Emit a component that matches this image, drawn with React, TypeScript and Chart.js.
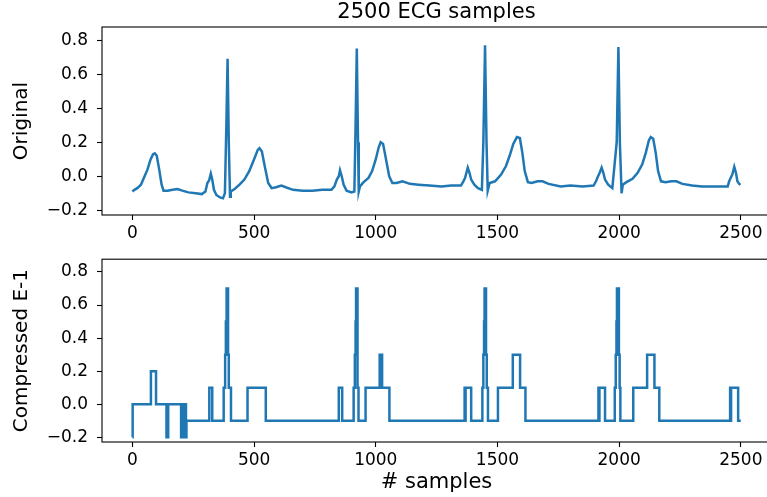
import React, { useEffect, useRef } from "react";
import { Chart, registerables } from "chart.js";

Chart.register(...registerables);

const TITLE = "2500 ECG samples";
const TOP_Y_LABEL = "Original";
const BOTTOM_Y_LABEL = "Compressed E-1";
const X_LABEL = "# samples";
const X_TICKS = [0, 500, 1000, 1500, 2000, 2500];
const Y_TICKS = [-0.2, 0, 0.2, 0.4, 0.6, 0.8];

const ECG_X = [
  0, 8, 20, 35, 50, 62, 75, 85, 92, 100, 110, 120, 128, 145, 165, 185, 205, 230, 260, 285,
  300, 308, 315, 322, 328, 335, 345, 360, 372, 380, 386, 391, 396, 401, 404, 420, 440, 460, 480, 500,
  515, 522, 532, 545, 558, 572, 590, 612, 630, 660, 700, 740, 780, 818, 830, 840, 848, 853, 860, 868,
  880, 900, 912, 917, 922, 927, 930, 935, 950, 970, 985, 1000, 1012, 1020, 1030, 1042, 1055, 1068, 1085, 1110,
  1140, 1175, 1220, 1270, 1310, 1350, 1360, 1367, 1378, 1385, 1392, 1405, 1420, 1436, 1442, 1449, 1455, 1460, 1468, 1490,
  1515, 1535, 1550, 1565, 1580, 1592, 1602, 1612, 1625, 1640, 1665, 1685, 1710, 1760, 1800, 1850, 1895, 1905, 1912, 1920,
  1928, 1935, 1942, 1955, 1972, 1990, 1997, 2003, 2010, 2015, 2030, 2055, 2076, 2095, 2110, 2122, 2130, 2140, 2150, 2160,
  2172, 2190, 2215, 2235, 2260, 2300, 2340, 2380, 2420, 2446, 2452, 2458, 2465, 2473, 2480, 2486, 2493, 2499,
];
const ECG_Y = [
  -0.09, -0.08, -0.07, -0.05, 0.0, 0.04, 0.1, 0.13, 0.135, 0.12, 0.04, -0.05, -0.085, -0.085, -0.08, -0.075, -0.085, -0.095, -0.1, -0.105,
  -0.09, -0.04, -0.025, 0.015, -0.02, -0.08, -0.11, -0.125, -0.13, -0.1, 0.3, 0.69, 0.2, -0.12, -0.09, -0.075, -0.05, -0.02, 0.03, 0.1,
  0.155, 0.165, 0.145, 0.05, -0.04, -0.07, -0.065, -0.055, -0.065, -0.08, -0.085, -0.085, -0.08, -0.08, -0.06, -0.02, 0.0, 0.035, 0.0, -0.05,
  -0.085, -0.095, -0.09, 0.3, 0.75, 0.2, -0.09, -0.06, -0.035, -0.01, 0.03, 0.1, 0.17, 0.2, 0.19, 0.1, 0.0, -0.04, -0.04, -0.03,
  -0.045, -0.05, -0.055, -0.06, -0.055, -0.055, -0.03, -0.01, 0.05, 0.02, -0.02, -0.05, -0.07, -0.08, 0.2, 0.77, 0.2, -0.085, -0.04, -0.03,
  0.01, 0.06, 0.12, 0.19, 0.23, 0.225, 0.14, 0.03, -0.035, -0.04, -0.03, -0.03, -0.045, -0.06, -0.055, -0.06, -0.055, -0.03, -0.005, 0.02,
  0.05, 0.02, -0.02, -0.05, -0.07, 0.2, 0.76, 0.2, -0.1, -0.05, -0.035, -0.015, 0.02, 0.07, 0.14, 0.21, 0.23, 0.22, 0.14, 0.03,
  -0.03, -0.035, -0.03, -0.03, -0.045, -0.055, -0.06, -0.06, -0.06, -0.06, -0.03, -0.01, 0.01, 0.055, 0.02, -0.03, -0.045, -0.05,
];

const CMP_X = [
  0, 1, 76, 97, 140, 147, 200, 202, 204, 206, 208, 210, 212, 214, 216, 218, 220, 222,
  316, 328, 375, 381, 384, 387, 393, 396, 405, 473, 548, 848, 862,
  909, 914, 917, 919, 925, 929, 958, 1016, 1026, 1056,
  1365, 1367, 1369, 1392, 1438, 1442, 1445, 1447, 1453, 1456, 1461, 1502, 1563, 1593, 1615,
  1915, 1917, 1919, 1942, 1982, 1986, 1989, 1991, 1999, 2002, 2005, 2058, 2115, 2145, 2165,
  2456, 2458, 2460, 2489, 2500,
];
const CMP_Y = [
  -0.2, 0.0, 0.2, 0.0, -0.2, 0.0, -0.2, 0.0, -0.2, 0.0, -0.2, 0.0, -0.2, 0.0, -0.2, 0.0, -0.2, -0.1,
  0.1, -0.1, 0.1, 0.3, 0.5, 0.7, 0.3, 0.1, -0.1, 0.1, -0.1, 0.1, -0.1,
  0.1, 0.3, 0.5, 0.7, 0.1, -0.1, 0.1, 0.3, 0.1, -0.1,
  0.1, -0.1, 0.1, -0.1, 0.1, 0.3, 0.5, 0.7, 0.3, 0.1, -0.1, 0.1, 0.3, 0.1, -0.1,
  0.1, -0.1, 0.1, -0.1, 0.1, 0.3, 0.5, 0.7, 0.3, 0.1, -0.1, 0.1, 0.3, 0.1, -0.1,
  0.1, -0.1, 0.1, -0.1, -0.1,
];

const FONT = "'DejaVu Sans', sans-serif";
const LINE_COLOR = "#1f77b4";
const X_MIN = -125;
const X_MAX = 2624;
const Y_MIN = -0.228;
const Y_MAX = 0.877;

const framePlugin = {
  id: "frame",
  afterDraw(chart: any) {
    const { ctx, chartArea: a } = chart;
    ctx.save();
    ctx.strokeStyle = "#000";
    ctx.lineWidth = 1.1;
    ctx.strokeRect(a.left, a.top, a.right - a.left, a.bottom - a.top);
    const t = chart.options.plugins.axTitle;
    if (t && t.text) {
      ctx.fillStyle = "#000";
      ctx.font = `21px ${FONT}`;
      ctx.textAlign = "center";
      ctx.textBaseline = "middle";
      ctx.fillText(t.text, (a.left + a.right) / 2, 13);
    }
    ctx.restore();
  },
};

function fmtY(v: number) {
  const s = Math.abs(v).toFixed(1);
  return v < -1e-9 ? "\u2212" + s : s;
}

function makeConfig(opts: {
  xs: number[];
  ys: number[];
  stepped: boolean;
  yLabel: string;
  title: string;
  xTitle: boolean;
  xHeight: number;
  padTop: number;
}): any {
  const tickFont = { family: FONT, size: 17 };
  return {
    type: "line",
    data: {
      datasets: [
        {
          data: opts.xs.map((x, i) => ({ x, y: opts.ys[i] })),
          borderColor: LINE_COLOR,
          borderWidth: 2.5,
          pointRadius: 0,
          tension: 0,
          fill: false,
          stepped: opts.stepped,
        },
      ],
    },
    options: {
      animation: false,
      responsive: false,
      layout: { padding: { top: opts.padTop, right: 9, left: 0, bottom: 0 } },
      plugins: {
        legend: { display: false },
        tooltip: { enabled: false },
        title: { display: false },
        axTitle: { text: opts.title },
      },
      scales: {
        x: {
          type: "linear",
          min: X_MIN,
          max: X_MAX,
          afterBuildTicks: (s: any) => {
            s.ticks = X_TICKS.map((v) => ({ value: v }));
          },
          afterFit: (s: any) => {
            s.height = opts.xHeight;
          },
          ticks: {
            color: "#000",
            font: tickFont,
            padding: 3,
            autoSkip: false,
            maxRotation: 0,
            callback: (v: any) => String(v),
          },
          grid: {
            drawOnChartArea: false,
            drawTicks: true,
            tickLength: 5,
            tickColor: "#000",
            tickWidth: 1.1,
          },
          border: { display: false },
          title: {
            display: opts.xTitle,
            text: X_LABEL,
            color: "#000",
            font: { family: FONT, size: 21 },
            padding: { top: 0, bottom: 2 },
          },
        },
        y: {
          type: "linear",
          min: Y_MIN,
          max: Y_MAX,
          afterBuildTicks: (s: any) => {
            s.ticks = Y_TICKS.map((v) => ({ value: v }));
          },
          afterFit: (s: any) => {
            s.width = 102;
          },
          ticks: {
            color: "#000",
            font: tickFont,
            padding: 9,
            callback: (v: any) => fmtY(Number(v)),
          },
          grid: {
            drawOnChartArea: false,
            drawTicks: true,
            tickLength: 5,
            tickColor: "#000",
            tickWidth: 1.1,
          },
          border: { display: false },
          title: {
            display: true,
            text: opts.yLabel,
            color: "#000",
            font: { family: FONT, size: 20 },
            padding: { top: 10, bottom: 0 },
          },
        },
      },
    },
    plugins: [framePlugin],
  };
}

export default function App() {
  const topRef = useRef<HTMLCanvasElement>(null);
  const botRef = useRef<HTMLCanvasElement>(null);

  useEffect(() => {
    const top = new Chart(
      topRef.current as HTMLCanvasElement,
      makeConfig({
        xs: ECG_X,
        ys: ECG_Y,
        stepped: false,
        yLabel: TOP_Y_LABEL,
        title: TITLE,
        xTitle: false,
        xHeight: 30,
        padTop: 27,
      })
    );
    const bot = new Chart(
      botRef.current as HTMLCanvasElement,
      makeConfig({
        xs: CMP_X,
        ys: CMP_Y,
        stepped: true,
        yLabel: BOTTOM_Y_LABEL,
        title: "",
        xTitle: true,
        xHeight: 55,
        padTop: 13,
      })
    );
    return () => {
      top.destroy();
      bot.destroy();
    };
  }, []);

  return (
    <div
      style={{
        position: "fixed",
        left: 0,
        top: 0,
        width: 767,
        height: 497,
        overflow: "hidden",
        background: "#fff",
      }}
    >
      <canvas
        ref={topRef}
        width={780}
        height={245}
        style={{ position: "absolute", left: 0, top: 0, width: 780, height: 245 }}
      />
      <canvas
        ref={botRef}
        width={780}
        height={257}
        style={{ position: "absolute", left: 0, top: 240, width: 780, height: 257 }}
      />
    </div>
  );
}
